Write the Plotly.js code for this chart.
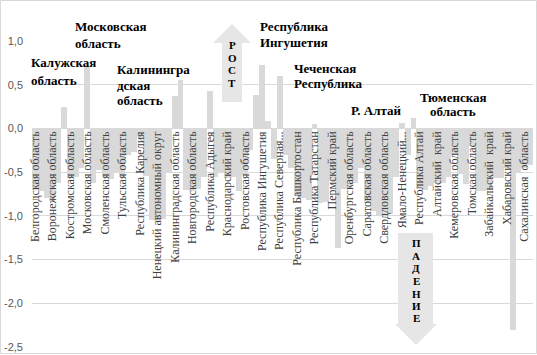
<!DOCTYPE html>
<html>
<head>
<meta charset="utf-8">
<script src="https://cdn.plot.ly/plotly-3.0.1.min.js"></script>
<style>html,body{margin:0;padding:0;background:#fff;}#chart{width:537px;height:355px;}</style>
</head>
<body>
<div id="chart"></div>
<script>
// ---- data ----
const regions = [
 "Белгородская область","Брянская область","Владимирская область","Воронежская область","Ивановская область",
 "Калужская область","Костромская область","Курская область","Липецкая область","Московская область",
 "Орловская область","Рязанская область","Смоленская область","Тамбовская область","Тверская область",
 "Тульская область","Ярославская область","г. Москва","Республика Карелия","Республика Коми",
 "Архангельская область","Ненецкий автономный округ","Архангельская область без АО","Вологодская область","Калининградская область",
 "Ленинградская область","Мурманская область","Новгородская область","Псковская область","г. Санкт-Петербург",
 "Республика Адыгея","Республика Калмыкия","Республика Крым","Краснодарский край","Астраханская область",
 "Волгоградская область","Ростовская область","г. Севастополь","Республика Дагестан","Республика Ингушетия",
 "Кабардино-Балкарская Республика","Карачаево-Черкесская Республика","Республика Северная Осетия – Алания","Чеченская Республика","Ставропольский край",
 "Республика Башкортостан","Республика Марий Эл","Республика Мордовия","Республика Татарстан","Удмуртская Республика",
 "Чувашская Республика","Пермский край","Кировская область","Нижегородская область","Оренбургская область",
 "Пензенская область","Самарская область","Саратовская область","Ульяновская область","Курганская область",
 "Свердловская область","Тюменская область","Ханты-Мансийский АО","Ямало-Ненецкий АО","Челябинская область",
 "Республика Алтай","Республика Тыва","Республика Хакасия","Алтайский край","Красноярский край",
 "Иркутская область","Кемеровская область","Новосибирская область","Омская область","Томская область",
 "Республика Бурятия","Республика Саха (Якутия)","Забайкальский край","Камчатский край","Приморский край",
 "Хабаровский край","Амурская область","Магаданская область","Сахалинская область","Еврейская АО",
 "Чукотский АО"
];
const values = [
 -0.70,-0.72,-0.80,-0.83,-0.62,
  0.24,-0.57,-0.56,-0.45, 0.72,
 -0.62,-0.48,-0.55,-0.58,-0.50,
 -0.56,-0.30,-0.27,-0.10,-0.54,
 -1.05,-1.06,-1.04,-0.50, 0.37,
  0.55,-0.70,-0.71,-0.69,-0.55,
  0.43,-0.56,-0.50,-0.57,-0.56,
 -0.71,-0.53,-0.25, 0.38, 0.72,
  0.08,-0.35, 0.60,-0.30,-0.45,
 -0.77,-0.80,-0.82, 0.05,-0.85,
 -0.84,-0.60,-1.37,-0.69,-0.68,
 -0.62,-0.45,-0.85,-0.95,-0.99,
 -0.99,-0.98,-0.55, 0.06,-0.30,
  0.12,-0.69,-0.70,-0.66,-0.62,
 -0.62,-0.55,-0.30,-0.52,-0.63,
 -0.20,-0.71,-0.71,-0.70,-0.57,
 -0.57,-0.45,-2.30,-0.50,-0.45,
 -0.42
];
const tickLabels = [
 "Белгородская область","Воронежская область","Костромская область","Московская область","Смоленская область",
 "Тульская область","Республика Карелия","Ненецкий автономный округ","Калининградская область","Новгородская область",
 "Республика Адыгея","Краснодарский край","Ростовская область","Республика Ингушетия","Республика Северная...",
 "Республика Башкортостан","Республика Татарстан","Пермский край","Оренбургская область","Саратовская область",
 "Свердловская область","Ямало-Ненецкий...","Республика Алтай","Алтайский  край","Кемеровская область",
 "Томская область","Забайкальский  край","Хабаровский край","Сахалинская  область"
];
const yTickVals = [1.0,0.5,0.0,-0.5,-1.0,-1.5,-2.0,-2.5];
const yTickText = ["1,0","0,5","0,0","-0,5","-1,0","-1,5","-2,0","-2,5"];

// ---- geometry helpers (pixel -> paper) ----
const L=32,R=533,T=41,B=347;
const px = x => (x-L)/(R-L);
const py = y => (B-y)/(B-T);

const tickVals = regions.filter((r,i)=>i%3===0);

const serif = "Liberation Serif";
const boldFont = {family: serif, size: 13, color: "#000", weight: "bold"};

function lineAnn(text, x, y, anchor){
  return {text:text, xref:"paper", yref:"paper", x:px(x), y:py(y),
          xanchor:anchor||"left", yanchor:"middle", showarrow:false, font:boldFont};
}
const anns = [
  lineAnn("Калужская",29,63), lineAnn("область",29,80),
  lineAnn("Московская",73,27), lineAnn("область",73,44),
  lineAnn("Калинингра",115,69), lineAnn("дская",115,85), lineAnn("область",115,100),
  lineAnn("Республика",258,27), lineAnn("Ингушетия",258,43),
  lineAnn("Чеченская",292,68), lineAnn("Республика",292,84),
  lineAnn("Р. Алтай",349,111),
  lineAnn("Тюменская",453,97,"center"), lineAnn("область",453,112,"center")
];
const letterFont = {family:serif, size:11, color:"#000", weight:"bold"};
const rost = ["Р","О","С","Т"], rostY=[45,58,70,83];
rost.forEach((c,i)=>anns.push({text:c,xref:"paper",yref:"paper",x:px(232),y:py(rostY[i]),
  xanchor:"center",yanchor:"middle",showarrow:false,font:letterFont}));
const pad = ["П","А","Д","Е","Н","И","Е"], padY=[243,256,268,281,294,306,318];
pad.forEach((c,i)=>anns.push({text:c,xref:"paper",yref:"paper",x:px(416),y:py(padY[i]),
  xanchor:"center",yanchor:"middle",showarrow:false,font:letterFont}));

function path(pts){ return "M "+pts.map(p=>px(p[0]).toFixed(4)+","+py(p[1]).toFixed(4)).join(" L ")+" Z"; }
const shapes = [
  {type:"path", xref:"paper", yref:"paper", layer:"above",
   path:path([[222,102],[222,43],[213,43],[232,24],[251,43],[242,43],[242,102]]),
   fillcolor:"#e7e6e6", line:{width:0}},
  {type:"path", xref:"paper", yref:"paper", layer:"above",
   path:path([[398,233],[433,233],[433,324],[437,324],[416,345],[395,324],[398,324]]),
   fillcolor:"#e7e6e6", line:{width:0}},
  {type:"rect", xref:"paper", yref:"paper", layer:"above",
   x0:px(0.5), x1:px(536.5), y0:py(353.5), y1:py(0.5), line:{color:"#d9d9d9", width:1}, fillcolor:"rgba(0,0,0,0)"}
];

const trace = {type:"bar", x:regions, y:values, marker:{color:"#d9d9d9", line:{width:0}}, hoverinfo:"none"};

const layout = {
  width:537, height:355, margin:{l:L, r:537-R, t:T, b:355-B},
  paper_bgcolor:"#fff", plot_bgcolor:"#fff", showlegend:false, bargap:0,
  xaxis:{type:"category", tickmode:"array", tickvals:tickVals, ticktext:tickLabels, tickangle:-90,
         anchor:"free", position:py(128), showgrid:false, showline:false, zeroline:false, ticks:"",
         range:[-0.5, regions.length-0.5], tickfont:{family:serif, size:12, color:"#404040"}},
  yaxis:{range:[-2.5,1.0], tickmode:"array", tickvals:yTickVals, ticktext:yTickText, showgrid:true,
         gridcolor:"#d9d9d9", zeroline:false, showline:false, ticks:"", ticklabelstandoff:8,
         tickfont:{family:"Liberation Sans", size:11, color:"#595959"}},
  annotations:anns, shapes:shapes
};
Plotly.newPlot("chart",[trace],layout,{staticPlot:true, displayModeBar:false});
</script>
</body>
</html>
